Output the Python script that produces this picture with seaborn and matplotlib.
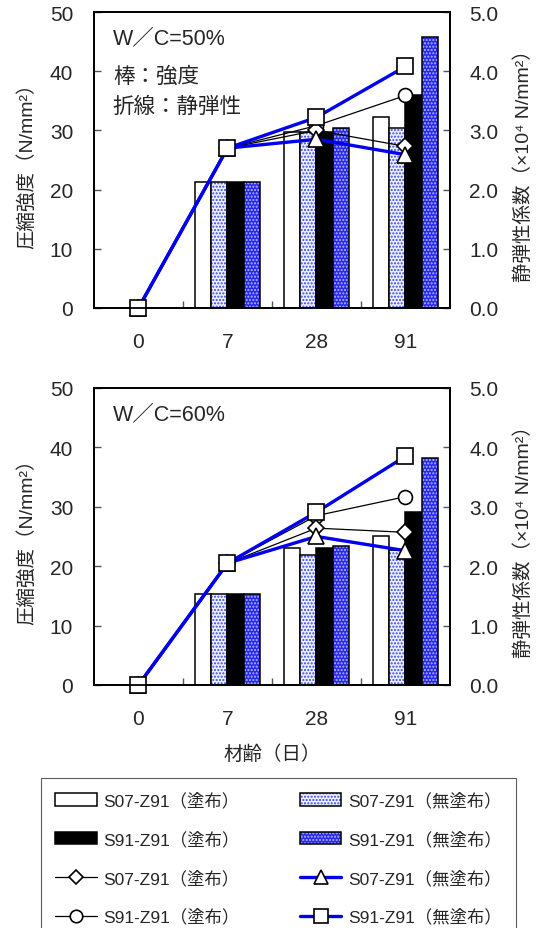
import numpy as np
import pandas as pd
import matplotlib
matplotlib.use("Agg")
import matplotlib.pyplot as plt
import matplotlib.colors as mcolors
from matplotlib.lines import Line2D
from matplotlib.patches import Patch
from matplotlib.ticker import FormatStrFormatter
import seaborn as sns

# material age (days) and series names
days = ["0", "7", "28", "91"]
bar_days = ["7", "28", "91"]
series = ["S07-Z91（塗布）", "S07-Z91（無塗布）", "S91-Z91（塗布）", "S91-Z91（無塗布）"]

# compressive strength (N/mm2) - W/C=50%
str50_s07_c = [21.3, 29.8, 32.3]
str50_s07_u = [21.3, 29.8, 30.4]
str50_s91_c = [21.3, 29.8, 36.0]
str50_s91_u = [21.3, 30.4, 45.7]
# compressive strength (N/mm2) - W/C=60%
str60_s07_c = [15.3, 23.1, 25.0]
str60_s07_u = [15.3, 21.8, 22.8]
str60_s91_c = [15.3, 23.0, 29.2]
str60_s91_u = [15.3, 23.4, 38.2]

# static modulus (x10^4 N/mm2) - W/C=50%
ela50_s07_c = [0.0, 2.70, 3.00, 2.73]
ela50_s07_u = [0.0, 2.70, 2.85, 2.59]
ela50_s91_c = [0.0, 2.70, 3.08, 3.59]
ela50_s91_u = [0.0, 2.70, 3.22, 4.08]
# static modulus (x10^4 N/mm2) - W/C=60%
ela60_s07_c = [0.0, 2.05, 2.64, 2.57]
ela60_s07_u = [0.0, 2.05, 2.50, 2.26]
ela60_s91_c = [0.0, 2.05, 2.85, 3.17]
ela60_s91_u = [0.0, 2.05, 2.91, 3.85]

BLUE = "#0000ee"
bar_faces = ["white", "#eef0ff", "black", "#2828ee"]
bar_hatch = [None, ".....", None, "....."]
bar_hatch_col = [None, "#3344ee", None, "#b0b8ff"]

# line styles: (marker, color, lw, ms) per series in `series` order
line_styles = [
    ("D", "black", 0.9, 8),
    ("^", BLUE, 2.4, 11),
    ("o", "black", 0.9, 10),
    ("s", BLUE, 2.4, 11),
]
draw_order = [2, 0, 1, 3]

sns.set_theme(style="ticks")
plt.rcParams["font.family"] = ["Liberation Sans", "Noto Sans CJK JP", "DejaVu Sans"]


def draw_panel(ax, strengths, elastics, notes):
    df = pd.DataFrame({
        "day": bar_days * len(series),
        "series": np.repeat(series, len(bar_days)),
        "value": np.concatenate(strengths),
    })
    sns.barplot(data=df, x="day", y="value", hue="series", order=days,
                hue_order=series, palette=dict(zip(series, bar_faces)),
                width=0.73, gap=0, errorbar=None, saturation=1,
                edgecolor="black", linewidth=1.1, legend=False, ax=ax)
    for cont, h, hc in zip(ax.containers, bar_hatch, bar_hatch_col):
        if h is None:
            continue
        for p in cont:
            p.set_hatch(h)
            p._hatch_color = mcolors.to_rgba(hc)

    ax2 = ax.twinx()
    pos = np.arange(len(days))
    for i in draw_order:
        mk, col, lw, ms = line_styles[i]
        sns.lineplot(x=pos, y=elastics[i], ax=ax2, color=col, linewidth=lw,
                     marker=mk, markersize=ms, markerfacecolor="white",
                     markeredgecolor="black", markeredgewidth=1.2,
                     clip_on=False, legend=False)

    ax.set_xlim(-0.5, 3.5)
    ax.set_ylim(0, 50)
    ax2.set_ylim(0, 5)
    ax.set_yticks(range(0, 51, 10))
    ax2.set_yticks(np.arange(0, 5.1, 1.0))
    ax2.yaxis.set_major_formatter(FormatStrFormatter("%.1f"))
    ax.set_xticks(pos)
    ax.set_xticklabels(days)
    ax.set_xticks([0.5, 1.5, 2.5], minor=True)

    ax.tick_params(axis="y", direction="in", length=5, width=1, pad=15,
                   labelsize=15, color="#555555")
    ax2.tick_params(axis="y", direction="in", length=5, width=1, pad=14,
                    labelsize=15, color="#555555")
    ax.tick_params(axis="x", which="major", length=0, pad=17, labelsize=15)
    ax.tick_params(axis="x", which="minor", direction="in", length=5,
                   width=1, color="#555555")

    ax.set_xlabel("")
    ax.set_ylabel("圧縮強度（N/mm²）", fontsize=14, labelpad=10)
    ax2.set_ylabel("静弾性係数（×10⁴ N/mm²）", fontsize=14, labelpad=11)
    for a in (ax, ax2):
        for sp in a.spines.values():
            sp.set_linewidth(1.3)
            sp.set_color("black")

    ys = [0.909, 0.784, 0.682]
    for txt, y in zip(notes, ys):
        ax.text(0.053, y, txt, transform=ax.transAxes, fontsize=15.5,
                va="center", ha="left")
    return ax2


fig = plt.figure(figsize=(5.48, 9.29), dpi=100)
ax_top = fig.add_axes([0.1715, 0.6674, 0.6496, 0.3186])
ax_bot = fig.add_axes([0.1715, 0.2616, 0.6496, 0.3197])

draw_panel(ax_top,
           [str50_s07_c, str50_s07_u, str50_s91_c, str50_s91_u],
           [ela50_s07_c, ela50_s07_u, ela50_s91_c, ela50_s91_u],
           ["W／C=50%", "棒：強度", "折線：静弾性"])
draw_panel(ax_bot,
           [str60_s07_c, str60_s07_u, str60_s91_c, str60_s91_u],
           [ela60_s07_c, ela60_s07_u, ela60_s91_c, ela60_s91_u],
           ["W／C=60%"])
ax_bot.set_xlabel("材齢（日）", fontsize=14, labelpad=12)

# legend (column 1: coated, column 2: uncoated)
def bar_handle(i):
    p = Patch(facecolor=bar_faces[i], edgecolor="black", linewidth=1.1,
              hatch=bar_hatch[i])
    if bar_hatch[i]:
        p._hatch_color = mcolors.to_rgba(bar_hatch_col[i])
    return p


def line_handle(i):
    mk, col, lw, ms = line_styles[i]
    return Line2D([], [], color=col, linewidth=lw, marker=mk,
                  markersize=ms * 0.9, markerfacecolor="white",
                  markeredgecolor="black", markeredgewidth=1.2)


handles = [bar_handle(0), bar_handle(2), line_handle(0), line_handle(2),
           bar_handle(1), bar_handle(3), line_handle(1), line_handle(3)]
labels = [series[0], series[2], series[0], series[2],
          series[1], series[3], series[1], series[3]]
leg = fig.legend(handles, labels, ncol=2, loc="upper left",
                 bbox_to_anchor=(0.0748, 0.0, 0.8668, 0.1615), mode="expand",
                 frameon=True, fancybox=False, edgecolor="#333333",
                 fontsize=12.5, handlelength=2.4, handletextpad=0.4,
                 labelspacing=1.27, borderpad=0.8, borderaxespad=0)
leg.get_frame().set_linewidth(0.8)

fig.savefig("out.png", dpi=100, facecolor="white")
